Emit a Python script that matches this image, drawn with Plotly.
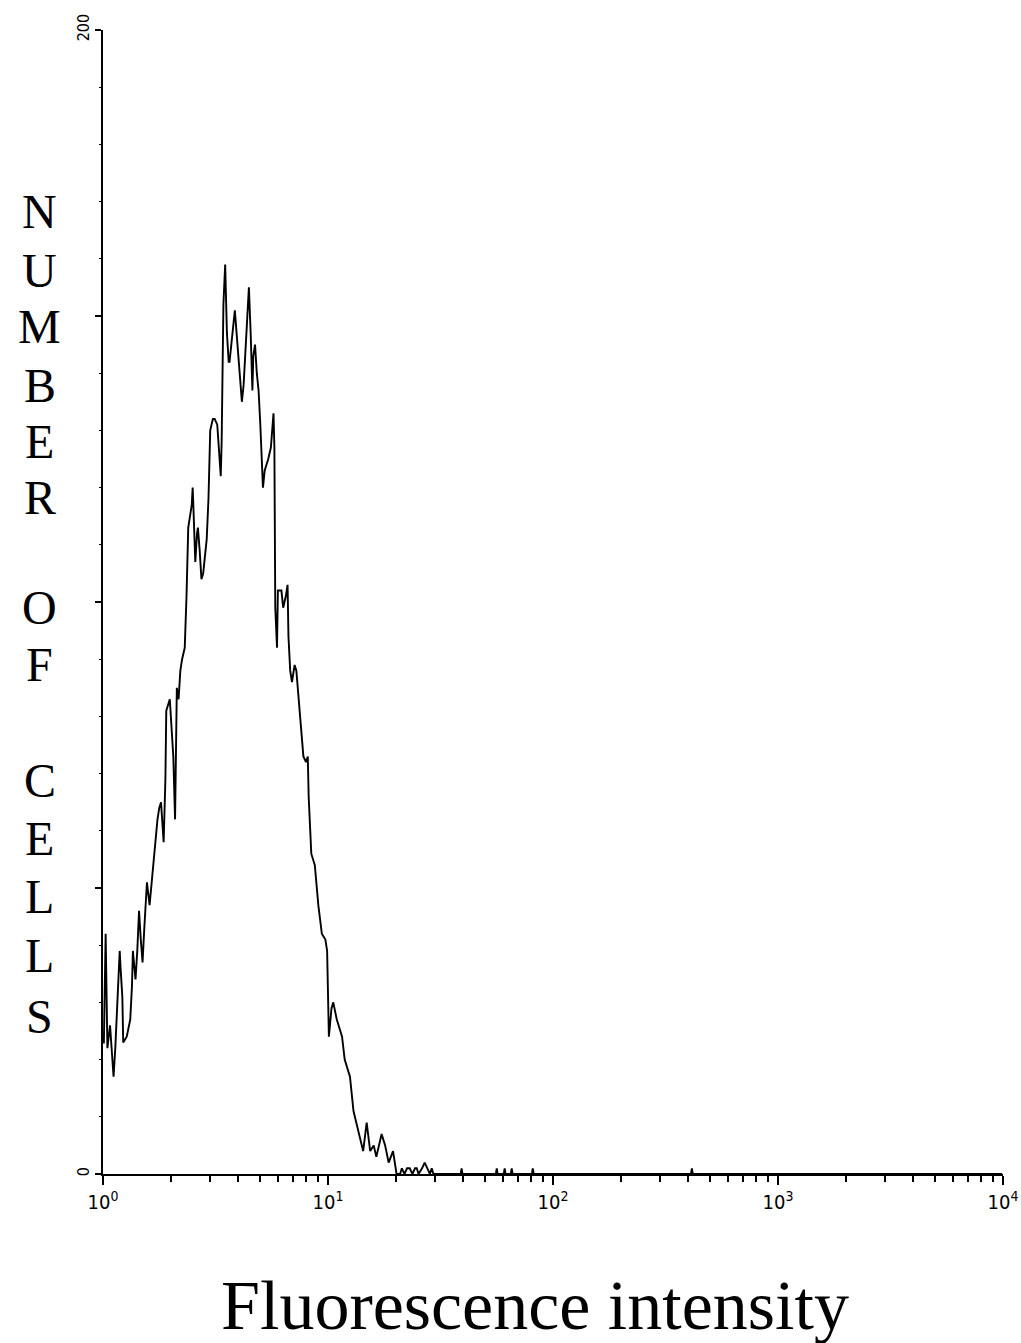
import plotly.graph_objects as go

# Flow cytometry histogram: 1024 log channels spanning 4 decades (256 channels per decade)
channel = [0, 1, 3, 5, 8, 10, 12, 14, 16, 19, 20, 22, 23, 27, 31, 33, 34, 37, 39, 41,
           43, 45, 47, 49, 50, 53, 55, 57, 59, 62, 64, 66, 67, 69, 71, 72, 74, 76, 78, 80,
           82, 84, 86, 88, 90, 93, 95, 97, 101, 102, 103, 105, 107, 108, 110, 112, 114, 118, 120, 122,
           125, 127, 130, 132, 134, 135, 136, 137, 139, 140, 141, 143, 144, 146, 148, 150, 152, 154, 156, 158,
           160, 163, 165, 166, 168, 170, 171, 173, 175, 177, 179, 181, 182, 184, 188, 191, 193, 194, 195, 196,
           198, 199, 203, 205, 208, 210, 211, 213, 215, 218, 220, 224, 228, 231, 233, 234, 237, 241, 245, 249,
           253, 255, 256, 257, 260, 262, 266, 272, 275, 281, 285, 291, 296, 300, 304, 308, 311, 317, 321, 325,
           330, 334, 338, 340, 343, 346, 349, 352, 355, 357, 359, 363, 366, 369, 372, 374, 376,
           407, 408, 409, 447, 448, 449, 456, 457, 458, 464, 465, 466, 488, 489, 490, 669, 670, 671, 1023]

cells = [23, 23, 42, 22, 26, 22, 17, 22, 29, 39, 36, 31, 23, 24, 27, 33, 39, 34, 39, 46,
         41, 37, 43, 50, 51, 47, 50, 54, 57, 62, 64, 65, 62, 58, 69, 81, 82, 83, 78, 73,
         62, 85, 83, 88, 90, 92, 101, 113, 117, 120, 116, 107, 112, 113, 109, 104, 105, 111, 118, 130,
         132, 132, 131, 127, 122, 128, 140, 152, 159, 151, 147, 142, 142, 145, 148, 151, 147, 143, 138, 135,
         138, 146, 152, 155, 147, 137, 143, 145, 140, 137, 131, 124, 120, 123, 125, 127, 132, 133, 127, 99,
         92, 102, 102, 99, 101, 103, 94, 88, 86, 89, 88, 81, 73, 72, 73, 66, 56, 54, 47, 42,
         41, 39, 32, 24, 29, 30, 27, 24, 20, 17, 11, 7, 4, 9, 4, 5, 3, 7, 5, 2,
         4, 0, 0, 1, 0, 1, 1, 0, 1, 1, 0, 1, 2, 1, 0, 1, 0,
         0, 1, 0, 0, 1, 0, 0, 1, 0, 0, 1, 0, 0, 1, 0, 0, 1, 0, 0]

x_tick_vals = [1, 10, 100, 1000, 10000]
x_tick_text = ["10<sup>0</sup>", "10<sup>1</sup>", "10<sup>2</sup>", "10<sup>3</sup>", "10<sup>4</sup>"]
y_tick_vals = [0, 50, 100, 150, 200]
y_tick_text = ["0", "", "", "", "200"]

y_title_letters = ["N", "U", "M", "B", "E", "R", "O", "F", "C", "E", "L", "L", "S"]
y_title_rows = [212, 270, 327, 385, 441, 497, 607, 665, 780, 838, 896, 955, 1017]

intensity = [10 ** (c / 256) for c in channel]

W, H = 1021, 1343
L, R, T, B = 103, 18, 30, 169
plot_w, plot_h = W - L - R, H - T - B


def paper_x(px):
    return (px - L) / plot_w


def paper_y(py):
    return (H - B - py) / plot_h


fig = go.Figure()
fig.add_trace(go.Scatter(
    x=intensity, y=cells, mode="lines",
    line=dict(color="black", width=1.9, shape="linear"),
    hoverinfo="skip", showlegend=False,
))

minor_vals = [k * 10 ** d for d in range(4) for k in range(2, 10)]

tick_family = "DejaVu Sans Condensed, Liberation Sans Narrow, sans-serif"

fig.update_layout(
    width=W, height=H,
    margin=dict(l=L, r=R, t=T, b=B, pad=0),
    paper_bgcolor="white", plot_bgcolor="white",
    xaxis=dict(
        type="log", range=[0, 4], automargin=False,
        showgrid=False, zeroline=False,
        showline=True, linecolor="black", linewidth=2,
        ticks="outside", ticklen=9, tickwidth=2, tickcolor="black",
        tickvals=x_tick_vals, ticktext=x_tick_text,
        tickfont=dict(family=tick_family, size=20, color="black"),
        minor=dict(ticks="outside", ticklen=6, tickwidth=2, tickcolor="black",
                   tickvals=minor_vals, showgrid=False),
    ),
    yaxis=dict(
        range=[0, 200], automargin=False,
        showgrid=False, zeroline=False,
        showline=True, linecolor="black", linewidth=2,
        ticks="outside", ticklen=6, tickwidth=2, tickcolor="black",
        tickvals=y_tick_vals, ticktext=y_tick_text, tickangle=-90,
        tickfont=dict(family=tick_family, size=16, color="black"),
        minor=dict(ticks="outside", ticklen=2, tickwidth=1, tickcolor="black", dtick=10),
    ),
)

serif = "Liberation Serif, Times New Roman, serif"

for letter, row in zip(y_title_letters, y_title_rows):
    fig.add_annotation(
        x=paper_x(40), y=paper_y(row), xref="paper", yref="paper",
        text=letter, showarrow=False, xanchor="center", yanchor="middle",
        font=dict(family=serif, size=48, color="black"),
    )

fig.add_annotation(
    x=paper_x(535), y=paper_y(1305), xref="paper", yref="paper",
    text="Fluorescence intensity", showarrow=False, xanchor="center", yanchor="middle",
    font=dict(family=serif, size=70, color="black"),
)

fig.write_html("out.html")
